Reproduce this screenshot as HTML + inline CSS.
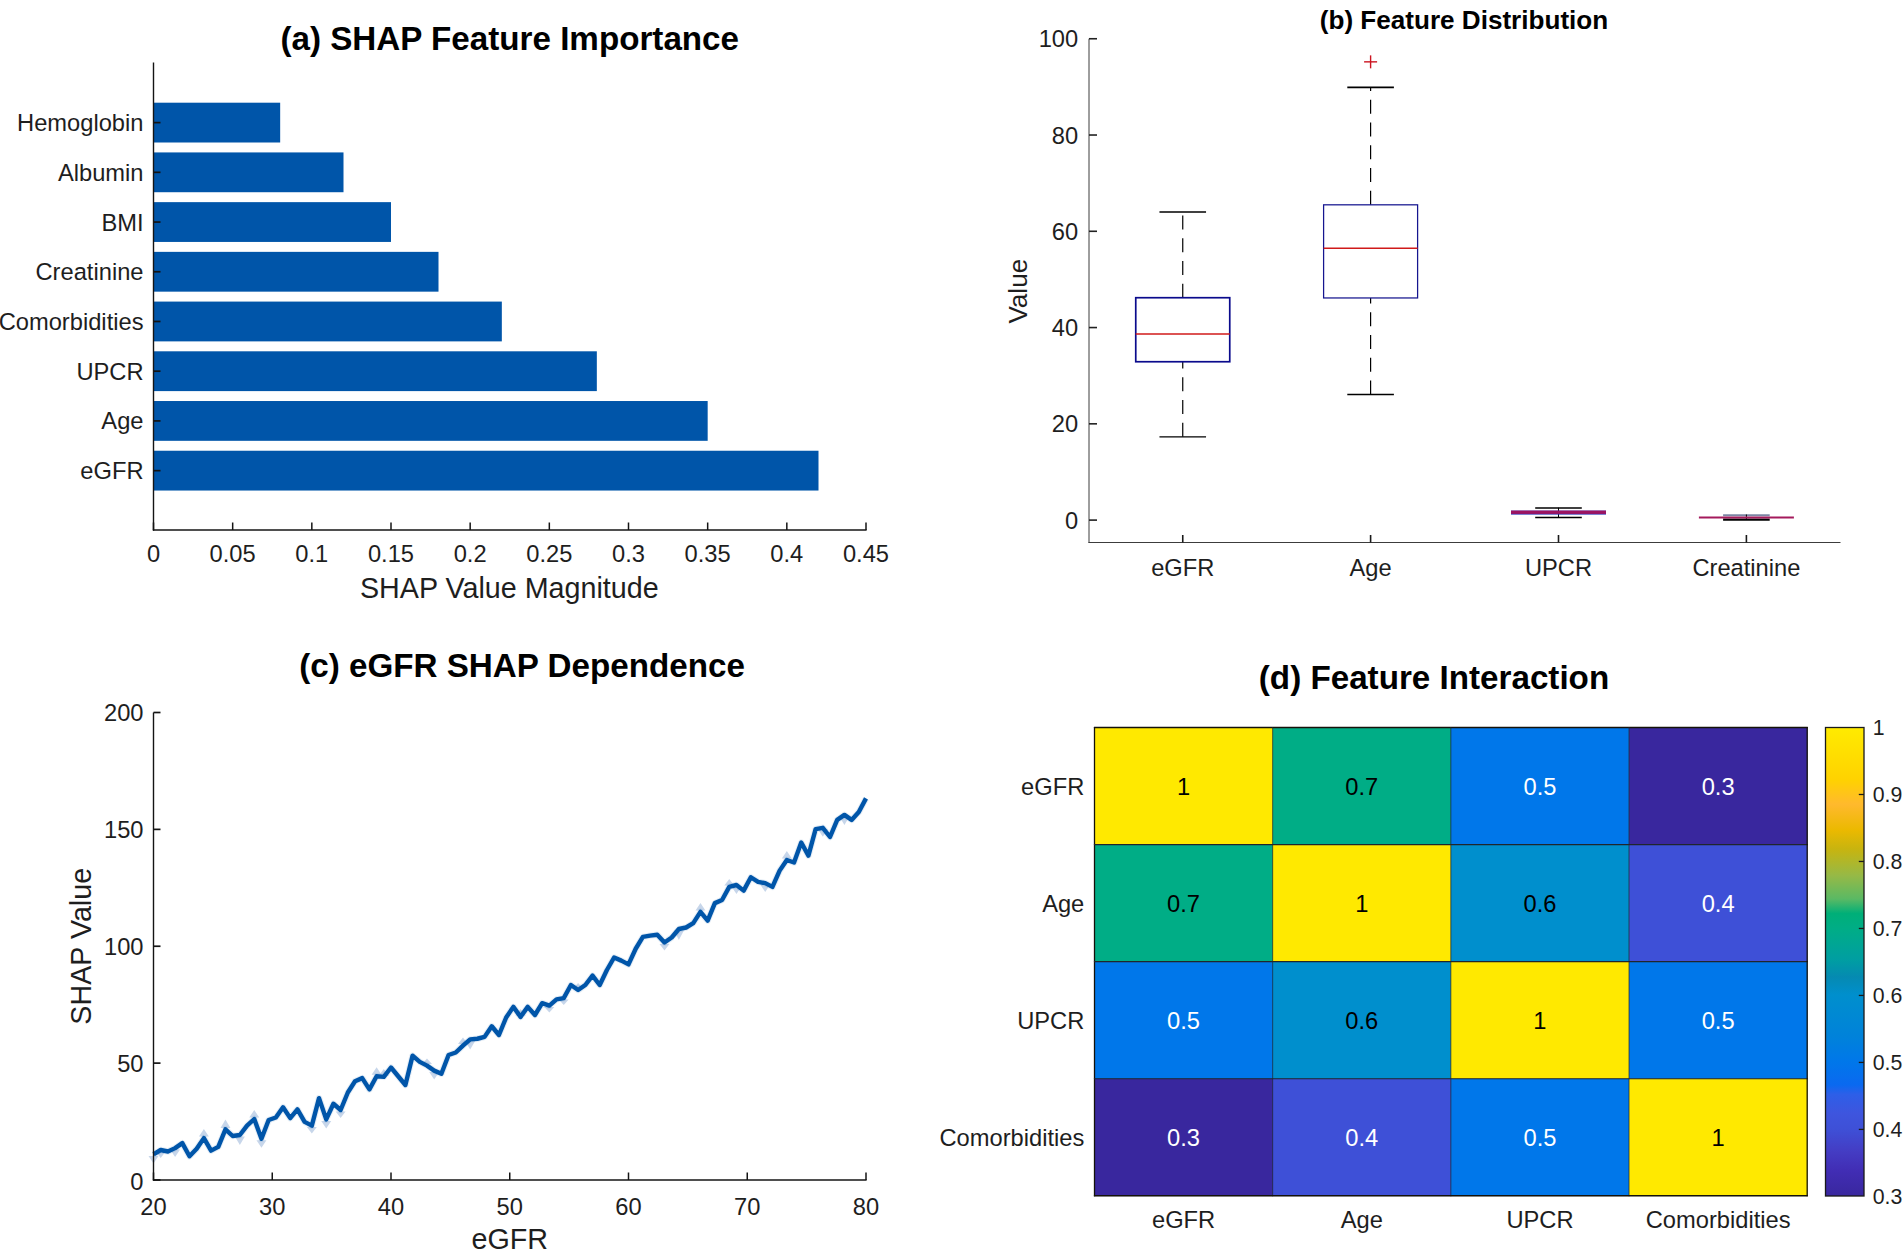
<!DOCTYPE html>
<html lang="en"><head><meta charset="utf-8"><title>SHAP analysis figure</title>
<style>
html,body{margin:0;padding:0;background:#fff;}
body{width:1904px;height:1250px;overflow:hidden;}
svg{display:block;font-family:"Liberation Sans",sans-serif;}
</style></head><body>
<svg width="1904" height="1250" viewBox="0 0 1904 1250">
<rect width="1904" height="1250" fill="#ffffff"/>
<g id="panel-a">
<rect x="153.50" y="102.70" width="126.67" height="39.8" fill="#0055A9"/>
<rect x="153.50" y="152.42" width="190.00" height="39.8" fill="#0055A9"/>
<rect x="153.50" y="202.14" width="237.50" height="39.8" fill="#0055A9"/>
<rect x="153.50" y="251.86" width="285.00" height="39.8" fill="#0055A9"/>
<rect x="153.50" y="301.58" width="348.33" height="39.8" fill="#0055A9"/>
<rect x="153.50" y="351.30" width="443.33" height="39.8" fill="#0055A9"/>
<rect x="153.50" y="401.02" width="554.17" height="39.8" fill="#0055A9"/>
<rect x="153.50" y="450.74" width="665.00" height="39.8" fill="#0055A9"/>
<line x1="153.50" y1="122.60" x2="160.50" y2="122.60" stroke="#141414" stroke-width="1.7" />
<text x="143.50" y="131.08" font-size="23.7" text-anchor="end" fill="#1e1e1e" font-weight="normal" >Hemoglobin</text>
<line x1="153.50" y1="172.32" x2="160.50" y2="172.32" stroke="#141414" stroke-width="1.7" />
<text x="143.50" y="180.80" font-size="23.7" text-anchor="end" fill="#1e1e1e" font-weight="normal" >Albumin</text>
<line x1="153.50" y1="222.04" x2="160.50" y2="222.04" stroke="#141414" stroke-width="1.7" />
<text x="143.50" y="230.52" font-size="23.7" text-anchor="end" fill="#1e1e1e" font-weight="normal" >BMI</text>
<line x1="153.50" y1="271.76" x2="160.50" y2="271.76" stroke="#141414" stroke-width="1.7" />
<text x="143.50" y="280.24" font-size="23.7" text-anchor="end" fill="#1e1e1e" font-weight="normal" >Creatinine</text>
<line x1="153.50" y1="321.48" x2="160.50" y2="321.48" stroke="#141414" stroke-width="1.7" />
<text x="143.50" y="329.96" font-size="23.7" text-anchor="end" fill="#1e1e1e" font-weight="normal" >Comorbidities</text>
<line x1="153.50" y1="371.20" x2="160.50" y2="371.20" stroke="#141414" stroke-width="1.7" />
<text x="143.50" y="379.68" font-size="23.7" text-anchor="end" fill="#1e1e1e" font-weight="normal" >UPCR</text>
<line x1="153.50" y1="420.92" x2="160.50" y2="420.92" stroke="#141414" stroke-width="1.7" />
<text x="143.50" y="429.40" font-size="23.7" text-anchor="end" fill="#1e1e1e" font-weight="normal" >Age</text>
<line x1="153.50" y1="470.64" x2="160.50" y2="470.64" stroke="#141414" stroke-width="1.7" />
<text x="143.50" y="479.12" font-size="23.7" text-anchor="end" fill="#1e1e1e" font-weight="normal" >eGFR</text>
<line x1="153.50" y1="62.50" x2="153.50" y2="530.70" stroke="#141414" stroke-width="1.4" />
<line x1="152.90" y1="530.00" x2="866.60" y2="530.00" stroke="#141414" stroke-width="1.6" />
<line x1="153.50" y1="530.00" x2="153.50" y2="522.50" stroke="#141414" stroke-width="1.5" />
<text x="153.50" y="562.20" font-size="23.7" text-anchor="middle" fill="#1e1e1e" font-weight="normal" >0</text>
<line x1="232.67" y1="530.00" x2="232.67" y2="522.50" stroke="#141414" stroke-width="1.5" />
<text x="232.67" y="562.20" font-size="23.7" text-anchor="middle" fill="#1e1e1e" font-weight="normal" >0.05</text>
<line x1="311.83" y1="530.00" x2="311.83" y2="522.50" stroke="#141414" stroke-width="1.5" />
<text x="311.83" y="562.20" font-size="23.7" text-anchor="middle" fill="#1e1e1e" font-weight="normal" >0.1</text>
<line x1="391.00" y1="530.00" x2="391.00" y2="522.50" stroke="#141414" stroke-width="1.5" />
<text x="391.00" y="562.20" font-size="23.7" text-anchor="middle" fill="#1e1e1e" font-weight="normal" >0.15</text>
<line x1="470.17" y1="530.00" x2="470.17" y2="522.50" stroke="#141414" stroke-width="1.5" />
<text x="470.17" y="562.20" font-size="23.7" text-anchor="middle" fill="#1e1e1e" font-weight="normal" >0.2</text>
<line x1="549.33" y1="530.00" x2="549.33" y2="522.50" stroke="#141414" stroke-width="1.5" />
<text x="549.33" y="562.20" font-size="23.7" text-anchor="middle" fill="#1e1e1e" font-weight="normal" >0.25</text>
<line x1="628.50" y1="530.00" x2="628.50" y2="522.50" stroke="#141414" stroke-width="1.5" />
<text x="628.50" y="562.20" font-size="23.7" text-anchor="middle" fill="#1e1e1e" font-weight="normal" >0.3</text>
<line x1="707.67" y1="530.00" x2="707.67" y2="522.50" stroke="#141414" stroke-width="1.5" />
<text x="707.67" y="562.20" font-size="23.7" text-anchor="middle" fill="#1e1e1e" font-weight="normal" >0.35</text>
<line x1="786.83" y1="530.00" x2="786.83" y2="522.50" stroke="#141414" stroke-width="1.5" />
<text x="786.83" y="562.20" font-size="23.7" text-anchor="middle" fill="#1e1e1e" font-weight="normal" >0.4</text>
<line x1="866.00" y1="530.00" x2="866.00" y2="522.50" stroke="#141414" stroke-width="1.5" />
<text x="866.00" y="562.20" font-size="23.7" text-anchor="middle" fill="#1e1e1e" font-weight="normal" >0.45</text>
<text x="509.30" y="597.50" font-size="28.7" text-anchor="middle" fill="#1e1e1e" font-weight="normal" >SHAP Value Magnitude</text>
<text x="509.75" y="50.30" font-size="33.2" text-anchor="middle" fill="#000" font-weight="bold" >(a) SHAP Feature Importance</text>
</g>
<g id="panel-b">
<line x1="1089.00" y1="38.75" x2="1089.00" y2="543.00" stroke="#3c3c3c" stroke-width="1.0" />
<line x1="1088.50" y1="542.50" x2="1840.50" y2="542.50" stroke="#3c3c3c" stroke-width="1.0" />
<line x1="1089.00" y1="520.10" x2="1097.00" y2="520.10" stroke="#222" stroke-width="1.6" />
<text x="1078.20" y="528.58" font-size="23.7" text-anchor="end" fill="#1e1e1e" font-weight="normal" >0</text>
<line x1="1089.00" y1="423.83" x2="1097.00" y2="423.83" stroke="#222" stroke-width="1.6" />
<text x="1078.20" y="432.31" font-size="23.7" text-anchor="end" fill="#1e1e1e" font-weight="normal" >20</text>
<line x1="1089.00" y1="327.56" x2="1097.00" y2="327.56" stroke="#222" stroke-width="1.6" />
<text x="1078.20" y="336.04" font-size="23.7" text-anchor="end" fill="#1e1e1e" font-weight="normal" >40</text>
<line x1="1089.00" y1="231.29" x2="1097.00" y2="231.29" stroke="#222" stroke-width="1.6" />
<text x="1078.20" y="239.77" font-size="23.7" text-anchor="end" fill="#1e1e1e" font-weight="normal" >60</text>
<line x1="1089.00" y1="135.02" x2="1097.00" y2="135.02" stroke="#222" stroke-width="1.6" />
<text x="1078.20" y="143.50" font-size="23.7" text-anchor="end" fill="#1e1e1e" font-weight="normal" >80</text>
<line x1="1089.00" y1="38.75" x2="1097.00" y2="38.75" stroke="#222" stroke-width="1.6" />
<text x="1078.20" y="47.23" font-size="23.7" text-anchor="end" fill="#1e1e1e" font-weight="normal" >100</text>
<line x1="1182.75" y1="542.50" x2="1182.75" y2="535.00" stroke="#1a1a1a" stroke-width="1.6" />
<text x="1182.75" y="575.50" font-size="23.7" text-anchor="middle" fill="#1e1e1e" font-weight="normal" >eGFR</text>
<line x1="1370.60" y1="542.50" x2="1370.60" y2="535.00" stroke="#1a1a1a" stroke-width="1.6" />
<text x="1370.60" y="575.50" font-size="23.7" text-anchor="middle" fill="#1e1e1e" font-weight="normal" >Age</text>
<line x1="1558.50" y1="542.50" x2="1558.50" y2="535.00" stroke="#1a1a1a" stroke-width="1.6" />
<text x="1558.50" y="575.50" font-size="23.7" text-anchor="middle" fill="#1e1e1e" font-weight="normal" >UPCR</text>
<line x1="1746.40" y1="542.50" x2="1746.40" y2="535.00" stroke="#1a1a1a" stroke-width="1.6" />
<text x="1746.40" y="575.50" font-size="23.7" text-anchor="middle" fill="#1e1e1e" font-weight="normal" >Creatinine</text>
<text x="1027.00" y="291.20" font-size="26.1" text-anchor="middle" fill="#1e1e1e" font-weight="normal" transform="rotate(-90 1027.00 291.20)" >Value</text>
<text x="1464.00" y="28.60" font-size="26.1" text-anchor="middle" fill="#000" font-weight="bold" >(b) Feature Distribution</text>
<line x1="1182.75" y1="297.72" x2="1182.75" y2="212.04" stroke="#000" stroke-width="1.2" stroke-dasharray="14 8.75"/>
<line x1="1182.75" y1="436.83" x2="1182.75" y2="361.74" stroke="#000" stroke-width="1.2" stroke-dasharray="14 8.75"/>
<line x1="1159.45" y1="212.04" x2="1206.05" y2="212.04" stroke="#000" stroke-width="1.6" />
<line x1="1159.45" y1="436.83" x2="1206.05" y2="436.83" stroke="#000" stroke-width="1.4" />
<rect x="1135.75" y="297.72" width="94.00" height="64.02" fill="none" stroke="#0a0a8c" stroke-width="1.7"/>
<line x1="1135.75" y1="334.06" x2="1229.75" y2="334.06" stroke="#d01a1a" stroke-width="1.5" />
<line x1="1370.60" y1="204.82" x2="1370.60" y2="87.37" stroke="#000" stroke-width="1.2" stroke-dasharray="14 8.75"/>
<line x1="1370.60" y1="394.47" x2="1370.60" y2="297.96" stroke="#000" stroke-width="1.2" stroke-dasharray="14 8.75"/>
<line x1="1347.30" y1="87.37" x2="1393.90" y2="87.37" stroke="#000" stroke-width="1.6" />
<line x1="1347.30" y1="394.47" x2="1393.90" y2="394.47" stroke="#000" stroke-width="1.4" />
<rect x="1323.60" y="204.82" width="94.00" height="93.14" fill="none" stroke="#15158f" stroke-width="1.25"/>
<line x1="1323.60" y1="248.14" x2="1417.60" y2="248.14" stroke="#d01a1a" stroke-width="1.5" />
<line x1="1364.10" y1="61.85" x2="1377.10" y2="61.85" stroke="#cc1420" stroke-width="1.4" />
<line x1="1370.60" y1="55.35" x2="1370.60" y2="68.35" stroke="#cc1420" stroke-width="1.4" />
<line x1="1558.50" y1="507.75" x2="1558.50" y2="517.50" stroke="#000" stroke-width="1.0" />
<line x1="1535.20" y1="507.90" x2="1581.80" y2="507.90" stroke="#000" stroke-width="1.5" />
<line x1="1535.20" y1="517.40" x2="1581.80" y2="517.40" stroke="#000" stroke-width="1.5" />
<rect x="1511.00" y="510.6" width="95" height="4.0" fill="#2a34b8"/>
<rect x="1511.00" y="510.6" width="95" height="3.3" fill="#9c1462"/>
<line x1="1723.10" y1="515.30" x2="1769.70" y2="515.30" stroke="#7c86a4" stroke-width="2.0" />
<line x1="1723.10" y1="519.60" x2="1769.70" y2="519.60" stroke="#000" stroke-width="2.4" />
<line x1="1746.40" y1="514.50" x2="1746.40" y2="520.00" stroke="#000" stroke-width="1.0" />
<line x1="1698.90" y1="517.50" x2="1793.90" y2="517.50" stroke="#a41a5c" stroke-width="2.2" />
</g>
<g id="panel-c">
<polygon points="148.50,1155.88 158.50,1155.88 153.50,1163.38" fill="#c7d6ea"/>
<polygon points="155.70,1151.50 165.70,1151.50 160.70,1158.00" fill="#c7d6ea"/>
<polygon points="170.09,1149.62 180.09,1149.62 175.09,1157.12" fill="#c7d6ea"/>
<polygon points="198.88,1136.62 208.88,1136.62 203.88,1129.12" fill="#c7d6ea"/>
<polygon points="220.47,1127.88 230.47,1127.88 225.47,1119.38" fill="#c7d6ea"/>
<polygon points="234.86,1136.50 244.86,1136.50 239.86,1145.00" fill="#c7d6ea"/>
<polygon points="249.26,1117.50 259.26,1117.50 254.26,1110.00" fill="#c7d6ea"/>
<polygon points="256.45,1140.25 266.45,1140.25 261.45,1147.75" fill="#c7d6ea"/>
<polygon points="306.83,1127.12 316.83,1127.12 311.83,1133.62" fill="#c7d6ea"/>
<polygon points="321.23,1120.88 331.23,1120.88 326.23,1128.38" fill="#c7d6ea"/>
<polygon points="335.62,1111.50 345.62,1111.50 340.62,1118.00" fill="#c7d6ea"/>
<polygon points="371.61,1074.75 381.61,1074.75 376.61,1067.25" fill="#c7d6ea"/>
<polygon points="378.80,1075.38 388.80,1075.38 383.80,1068.88" fill="#c7d6ea"/>
<polygon points="421.98,1064.12 431.98,1064.12 426.98,1058.62" fill="#c7d6ea"/>
<polygon points="429.18,1072.12 439.18,1072.12 434.18,1079.62" fill="#c7d6ea"/>
<polygon points="465.17,1040.88 475.17,1040.88 470.17,1049.38" fill="#c7d6ea"/>
<polygon points="457.97,1044.12 467.97,1044.12 462.97,1037.62" fill="#c7d6ea"/>
<polygon points="515.55,1015.38 525.55,1015.38 520.55,1008.88" fill="#c7d6ea"/>
<polygon points="544.33,1007.12 554.33,1007.12 549.33,1012.62" fill="#c7d6ea"/>
<polygon points="558.73,999.62 568.73,999.62 563.73,1005.12" fill="#c7d6ea"/>
<polygon points="573.12,988.50 583.12,988.50 578.12,983.00" fill="#c7d6ea"/>
<polygon points="659.48,944.00 669.48,944.00 664.48,950.50" fill="#c7d6ea"/>
<polygon points="673.88,930.50 683.88,930.50 678.88,940.00" fill="#c7d6ea"/>
<polygon points="695.47,910.38 705.47,910.38 700.47,902.88" fill="#c7d6ea"/>
<polygon points="724.26,885.38 734.26,885.38 729.26,878.88" fill="#c7d6ea"/>
<polygon points="731.45,886.50 741.45,886.50 736.45,894.00" fill="#c7d6ea"/>
<polygon points="760.24,884.62 770.24,884.62 765.24,892.12" fill="#c7d6ea"/>
<polygon points="781.83,858.50 791.83,858.50 786.83,851.00" fill="#c7d6ea"/>
<polygon points="817.82,829.30 827.82,829.30 822.82,836.80" fill="#c7d6ea"/>
<polygon points="839.41,816.40 849.41,816.40 844.41,824.90" fill="#c7d6ea"/>
<polyline points="153.50,1154.38 160.70,1150.00 167.89,1151.50 175.09,1148.12 182.29,1143.12 189.48,1156.25 196.68,1148.75 203.88,1138.12 211.08,1150.62 218.27,1146.88 225.47,1129.38 232.67,1136.00 239.86,1135.00 247.06,1125.62 254.26,1119.00 261.45,1138.75 268.65,1120.00 275.85,1117.50 283.05,1107.25 290.24,1118.12 297.44,1109.38 304.64,1121.88 311.83,1125.62 319.03,1098.12 326.23,1119.38 333.42,1103.75 340.62,1110.00 347.82,1092.50 355.02,1081.25 362.21,1078.12 369.41,1089.38 376.61,1076.25 383.80,1076.88 391.00,1067.50 398.20,1076.25 405.39,1085.00 412.59,1055.62 419.79,1061.88 426.98,1065.62 434.18,1070.62 441.38,1073.75 448.58,1055.00 455.77,1052.50 462.97,1045.62 470.17,1039.38 477.36,1038.75 484.56,1036.88 491.76,1026.25 498.95,1035.00 506.15,1017.50 513.35,1006.88 520.55,1016.88 527.74,1006.88 534.94,1015.00 542.14,1003.12 549.33,1005.62 556.53,999.38 563.73,998.12 570.92,985.00 578.12,990.00 585.32,985.00 592.52,975.62 599.71,985.00 606.91,970.00 614.11,957.50 621.30,960.62 628.50,964.38 635.70,948.75 642.89,936.88 650.09,935.62 657.29,934.75 664.48,942.50 671.68,937.50 678.88,929.00 686.08,927.50 693.27,923.12 700.47,911.88 707.67,920.62 714.86,903.12 722.06,900.00 729.26,886.88 736.45,885.00 743.65,890.62 750.85,877.25 758.05,881.88 765.24,883.12 772.44,886.88 779.64,870.62 786.83,860.00 794.03,862.50 801.23,842.50 808.42,855.62 815.62,829.10 822.82,827.80 830.02,837.00 837.21,819.90 844.41,814.90 851.61,819.90 858.80,812.00 866.00,798.40" fill="none" stroke="#0055A9" stroke-opacity="0.10" stroke-width="6.5" stroke-linejoin="round"/>
<polyline points="153.50,1154.38 160.70,1150.00 167.89,1151.50 175.09,1148.12 182.29,1143.12 189.48,1156.25 196.68,1148.75 203.88,1138.12 211.08,1150.62 218.27,1146.88 225.47,1129.38 232.67,1136.00 239.86,1135.00 247.06,1125.62 254.26,1119.00 261.45,1138.75 268.65,1120.00 275.85,1117.50 283.05,1107.25 290.24,1118.12 297.44,1109.38 304.64,1121.88 311.83,1125.62 319.03,1098.12 326.23,1119.38 333.42,1103.75 340.62,1110.00 347.82,1092.50 355.02,1081.25 362.21,1078.12 369.41,1089.38 376.61,1076.25 383.80,1076.88 391.00,1067.50 398.20,1076.25 405.39,1085.00 412.59,1055.62 419.79,1061.88 426.98,1065.62 434.18,1070.62 441.38,1073.75 448.58,1055.00 455.77,1052.50 462.97,1045.62 470.17,1039.38 477.36,1038.75 484.56,1036.88 491.76,1026.25 498.95,1035.00 506.15,1017.50 513.35,1006.88 520.55,1016.88 527.74,1006.88 534.94,1015.00 542.14,1003.12 549.33,1005.62 556.53,999.38 563.73,998.12 570.92,985.00 578.12,990.00 585.32,985.00 592.52,975.62 599.71,985.00 606.91,970.00 614.11,957.50 621.30,960.62 628.50,964.38 635.70,948.75 642.89,936.88 650.09,935.62 657.29,934.75 664.48,942.50 671.68,937.50 678.88,929.00 686.08,927.50 693.27,923.12 700.47,911.88 707.67,920.62 714.86,903.12 722.06,900.00 729.26,886.88 736.45,885.00 743.65,890.62 750.85,877.25 758.05,881.88 765.24,883.12 772.44,886.88 779.64,870.62 786.83,860.00 794.03,862.50 801.23,842.50 808.42,855.62 815.62,829.10 822.82,827.80 830.02,837.00 837.21,819.90 844.41,814.90 851.61,819.90 858.80,812.00 866.00,798.40" fill="none" stroke="#0055A9" stroke-width="4.4" stroke-linejoin="round" stroke-linecap="butt"/>
<line x1="153.50" y1="712.50" x2="153.50" y2="1180.70" stroke="#141414" stroke-width="1.4" />
<line x1="152.90" y1="1180.00" x2="866.60" y2="1180.00" stroke="#141414" stroke-width="1.6" />
<line x1="153.50" y1="1180.00" x2="160.50" y2="1180.00" stroke="#141414" stroke-width="1.7" />
<text x="143.50" y="1189.98" font-size="23.7" text-anchor="end" fill="#1e1e1e" font-weight="normal" >0</text>
<line x1="153.50" y1="1063.12" x2="160.50" y2="1063.12" stroke="#141414" stroke-width="1.7" />
<text x="143.50" y="1072.01" font-size="23.7" text-anchor="end" fill="#1e1e1e" font-weight="normal" >50</text>
<line x1="153.50" y1="946.25" x2="160.50" y2="946.25" stroke="#141414" stroke-width="1.7" />
<text x="143.50" y="955.13" font-size="23.7" text-anchor="end" fill="#1e1e1e" font-weight="normal" >100</text>
<line x1="153.50" y1="829.38" x2="160.50" y2="829.38" stroke="#141414" stroke-width="1.7" />
<text x="143.50" y="838.26" font-size="23.7" text-anchor="end" fill="#1e1e1e" font-weight="normal" >150</text>
<line x1="153.50" y1="712.50" x2="160.50" y2="712.50" stroke="#141414" stroke-width="1.7" />
<text x="143.50" y="721.38" font-size="23.7" text-anchor="end" fill="#1e1e1e" font-weight="normal" >200</text>
<line x1="153.50" y1="1180.00" x2="153.50" y2="1172.50" stroke="#141414" stroke-width="1.5" />
<text x="153.50" y="1214.70" font-size="23.7" text-anchor="middle" fill="#1e1e1e" font-weight="normal" >20</text>
<line x1="272.25" y1="1180.00" x2="272.25" y2="1172.50" stroke="#141414" stroke-width="1.5" />
<text x="272.25" y="1214.70" font-size="23.7" text-anchor="middle" fill="#1e1e1e" font-weight="normal" >30</text>
<line x1="391.00" y1="1180.00" x2="391.00" y2="1172.50" stroke="#141414" stroke-width="1.5" />
<text x="391.00" y="1214.70" font-size="23.7" text-anchor="middle" fill="#1e1e1e" font-weight="normal" >40</text>
<line x1="509.75" y1="1180.00" x2="509.75" y2="1172.50" stroke="#141414" stroke-width="1.5" />
<text x="509.75" y="1214.70" font-size="23.7" text-anchor="middle" fill="#1e1e1e" font-weight="normal" >50</text>
<line x1="628.50" y1="1180.00" x2="628.50" y2="1172.50" stroke="#141414" stroke-width="1.5" />
<text x="628.50" y="1214.70" font-size="23.7" text-anchor="middle" fill="#1e1e1e" font-weight="normal" >60</text>
<line x1="747.25" y1="1180.00" x2="747.25" y2="1172.50" stroke="#141414" stroke-width="1.5" />
<text x="747.25" y="1214.70" font-size="23.7" text-anchor="middle" fill="#1e1e1e" font-weight="normal" >70</text>
<line x1="866.00" y1="1180.00" x2="866.00" y2="1172.50" stroke="#141414" stroke-width="1.5" />
<text x="866.00" y="1214.70" font-size="23.7" text-anchor="middle" fill="#1e1e1e" font-weight="normal" >80</text>
<text x="509.75" y="1249.20" font-size="28.7" text-anchor="middle" fill="#1e1e1e" font-weight="normal" >eGFR</text>
<text x="91.30" y="946.25" font-size="28.7" text-anchor="middle" fill="#1e1e1e" font-weight="normal" transform="rotate(-90 91.30 946.25)" >SHAP Value</text>
<text x="522.00" y="676.60" font-size="33.2" text-anchor="middle" fill="#000" font-weight="bold" >(c) eGFR SHAP Dependence</text>
</g>
<g id="panel-d">
<rect x="1094.50" y="727.50" width="178.48" height="117.37" fill="#ffe900"/>
<rect x="1272.67" y="727.50" width="178.48" height="117.37" fill="#00ad86"/>
<rect x="1450.85" y="727.50" width="178.48" height="117.37" fill="#0077ea"/>
<rect x="1629.03" y="727.50" width="178.48" height="117.37" fill="#39279e"/>
<rect x="1094.50" y="844.58" width="178.48" height="117.37" fill="#00ad86"/>
<rect x="1272.67" y="844.58" width="178.48" height="117.37" fill="#ffe900"/>
<rect x="1450.85" y="844.58" width="178.48" height="117.37" fill="#008fcd"/>
<rect x="1629.03" y="844.58" width="178.48" height="117.37" fill="#3e50d7"/>
<rect x="1094.50" y="961.65" width="178.48" height="117.37" fill="#0077ea"/>
<rect x="1272.67" y="961.65" width="178.48" height="117.37" fill="#008fcd"/>
<rect x="1450.85" y="961.65" width="178.48" height="117.37" fill="#ffe900"/>
<rect x="1629.03" y="961.65" width="178.48" height="117.37" fill="#0077ea"/>
<rect x="1094.50" y="1078.72" width="178.48" height="117.37" fill="#39279e"/>
<rect x="1272.67" y="1078.72" width="178.48" height="117.37" fill="#3e50d7"/>
<rect x="1450.85" y="1078.72" width="178.48" height="117.37" fill="#0077ea"/>
<rect x="1629.03" y="1078.72" width="178.48" height="117.37" fill="#ffe900"/>
<line x1="1094.50" y1="727.00" x2="1094.50" y2="1196.30" stroke="#14120a" stroke-width="1.3" />
<line x1="1093.90" y1="727.50" x2="1807.80" y2="727.50" stroke="#14120a" stroke-width="1.4" />
<line x1="1272.67" y1="727.00" x2="1272.67" y2="1196.30" stroke="#20262c" stroke-width="0.9" stroke-opacity="0.8"/>
<line x1="1093.90" y1="844.58" x2="1807.80" y2="844.58" stroke="#20262c" stroke-width="1.1" />
<line x1="1450.85" y1="727.00" x2="1450.85" y2="1196.30" stroke="#20262c" stroke-width="0.9" stroke-opacity="0.8"/>
<line x1="1093.90" y1="961.65" x2="1807.80" y2="961.65" stroke="#20262c" stroke-width="1.1" />
<line x1="1629.03" y1="727.00" x2="1629.03" y2="1196.30" stroke="#20262c" stroke-width="0.9" stroke-opacity="0.8"/>
<line x1="1093.90" y1="1078.72" x2="1807.80" y2="1078.72" stroke="#20262c" stroke-width="1.1" />
<line x1="1807.20" y1="727.00" x2="1807.20" y2="1196.30" stroke="#14120a" stroke-width="1.3" />
<line x1="1093.90" y1="1195.80" x2="1807.80" y2="1195.80" stroke="#14120a" stroke-width="1.4" />
<text x="1183.59" y="794.52" font-size="23.7" text-anchor="middle" fill="#000" font-weight="normal" >1</text>
<text x="1361.76" y="794.52" font-size="23.7" text-anchor="middle" fill="#000" font-weight="normal" >0.7</text>
<text x="1539.94" y="794.52" font-size="23.7" text-anchor="middle" fill="#fff" font-weight="normal" >0.5</text>
<text x="1718.11" y="794.52" font-size="23.7" text-anchor="middle" fill="#fff" font-weight="normal" >0.3</text>
<text x="1183.59" y="911.60" font-size="23.7" text-anchor="middle" fill="#000" font-weight="normal" >0.7</text>
<text x="1361.76" y="911.60" font-size="23.7" text-anchor="middle" fill="#000" font-weight="normal" >1</text>
<text x="1539.94" y="911.60" font-size="23.7" text-anchor="middle" fill="#000" font-weight="normal" >0.6</text>
<text x="1718.11" y="911.60" font-size="23.7" text-anchor="middle" fill="#fff" font-weight="normal" >0.4</text>
<text x="1183.59" y="1028.67" font-size="23.7" text-anchor="middle" fill="#fff" font-weight="normal" >0.5</text>
<text x="1361.76" y="1028.67" font-size="23.7" text-anchor="middle" fill="#000" font-weight="normal" >0.6</text>
<text x="1539.94" y="1028.67" font-size="23.7" text-anchor="middle" fill="#000" font-weight="normal" >1</text>
<text x="1718.11" y="1028.67" font-size="23.7" text-anchor="middle" fill="#fff" font-weight="normal" >0.5</text>
<text x="1183.59" y="1145.75" font-size="23.7" text-anchor="middle" fill="#fff" font-weight="normal" >0.3</text>
<text x="1361.76" y="1145.75" font-size="23.7" text-anchor="middle" fill="#fff" font-weight="normal" >0.4</text>
<text x="1539.94" y="1145.75" font-size="23.7" text-anchor="middle" fill="#fff" font-weight="normal" >0.5</text>
<text x="1718.11" y="1145.75" font-size="23.7" text-anchor="middle" fill="#000" font-weight="normal" >1</text>
<text x="1084.30" y="794.52" font-size="23.7" text-anchor="end" fill="#1e1e1e" font-weight="normal" >eGFR</text>
<text x="1183.59" y="1227.50" font-size="23.7" text-anchor="middle" fill="#1e1e1e" font-weight="normal" >eGFR</text>
<text x="1084.30" y="911.60" font-size="23.7" text-anchor="end" fill="#1e1e1e" font-weight="normal" >Age</text>
<text x="1361.76" y="1227.50" font-size="23.7" text-anchor="middle" fill="#1e1e1e" font-weight="normal" >Age</text>
<text x="1084.30" y="1028.67" font-size="23.7" text-anchor="end" fill="#1e1e1e" font-weight="normal" >UPCR</text>
<text x="1539.94" y="1227.50" font-size="23.7" text-anchor="middle" fill="#1e1e1e" font-weight="normal" >UPCR</text>
<text x="1084.30" y="1145.75" font-size="23.7" text-anchor="end" fill="#1e1e1e" font-weight="normal" >Comorbidities</text>
<text x="1718.11" y="1227.50" font-size="23.7" text-anchor="middle" fill="#1e1e1e" font-weight="normal" >Comorbidities</text>
<text x="1434.00" y="689.10" font-size="33.2" text-anchor="middle" fill="#000" font-weight="bold" >(d) Feature Interaction</text>
<defs><linearGradient id="parula" x1="0" y1="1" x2="0" y2="0">
<stop offset="0.0" stop-color="#39279e"/>
<stop offset="0.053" stop-color="#412db4"/>
<stop offset="0.094" stop-color="#443cc3"/>
<stop offset="0.143" stop-color="#3e50d7"/>
<stop offset="0.176" stop-color="#3e55de"/>
<stop offset="0.217" stop-color="#2d5fe8"/>
<stop offset="0.237" stop-color="#0a69f0"/>
<stop offset="0.286" stop-color="#0077ea"/>
<stop offset="0.34" stop-color="#0082da"/>
<stop offset="0.429" stop-color="#008fcd"/>
<stop offset="0.467" stop-color="#058ab2"/>
<stop offset="0.504" stop-color="#009ea2"/>
<stop offset="0.571" stop-color="#00ad86"/>
<stop offset="0.603" stop-color="#00af78"/>
<stop offset="0.634" stop-color="#5ab964"/>
<stop offset="0.684" stop-color="#96b946"/>
<stop offset="0.741" stop-color="#c8b40f"/>
<stop offset="0.781" stop-color="#ebb900"/>
<stop offset="0.836" stop-color="#ffb92d"/>
<stop offset="0.889" stop-color="#ffd200"/>
<stop offset="1.0" stop-color="#ffeb00"/>
</linearGradient></defs>
<rect x="1825.50" y="727.50" width="38.50" height="468.50" fill="url(#parula)" stroke="#1a1a1a" stroke-width="1.3"/>
<text x="1872.70" y="1204.03" font-size="21.3" text-anchor="start" fill="#1e1e1e" font-weight="normal" >0.3</text>
<line x1="1858.80" y1="1129.41" x2="1864.00" y2="1129.41" stroke="#1a1a1a" stroke-width="1.3" />
<text x="1872.70" y="1137.04" font-size="21.3" text-anchor="start" fill="#1e1e1e" font-weight="normal" >0.4</text>
<line x1="1858.80" y1="1062.43" x2="1864.00" y2="1062.43" stroke="#1a1a1a" stroke-width="1.3" />
<text x="1872.70" y="1070.05" font-size="21.3" text-anchor="start" fill="#1e1e1e" font-weight="normal" >0.5</text>
<line x1="1858.80" y1="995.44" x2="1864.00" y2="995.44" stroke="#1a1a1a" stroke-width="1.3" />
<text x="1872.70" y="1003.07" font-size="21.3" text-anchor="start" fill="#1e1e1e" font-weight="normal" >0.6</text>
<line x1="1858.80" y1="928.46" x2="1864.00" y2="928.46" stroke="#1a1a1a" stroke-width="1.3" />
<text x="1872.70" y="936.08" font-size="21.3" text-anchor="start" fill="#1e1e1e" font-weight="normal" >0.7</text>
<line x1="1858.80" y1="861.47" x2="1864.00" y2="861.47" stroke="#1a1a1a" stroke-width="1.3" />
<text x="1872.70" y="869.10" font-size="21.3" text-anchor="start" fill="#1e1e1e" font-weight="normal" >0.8</text>
<line x1="1858.80" y1="794.49" x2="1864.00" y2="794.49" stroke="#1a1a1a" stroke-width="1.3" />
<text x="1872.70" y="802.11" font-size="21.3" text-anchor="start" fill="#1e1e1e" font-weight="normal" >0.9</text>
<text x="1872.70" y="735.13" font-size="21.3" text-anchor="start" fill="#1e1e1e" font-weight="normal" >1</text>
</g>
</svg>
</body></html>
